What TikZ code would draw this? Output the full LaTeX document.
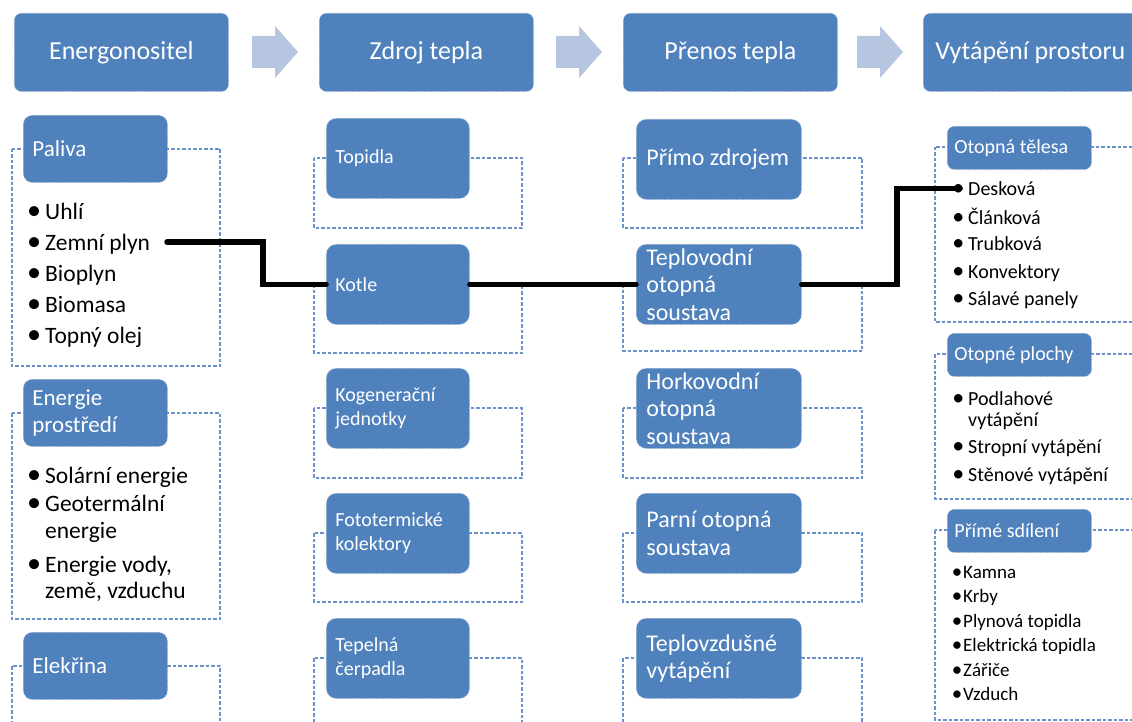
\documentclass[tikz,border=0pt]{standalone}
\usepackage{fontspec}
\setmainfont{Carlito}
\definecolor{boxblue}{HTML}{4F81BD}
\definecolor{boxedge}{HTML}{85A5D0}
\definecolor{dashblue}{HTML}{6A91C9}
\definecolor{arrowfill}{HTML}{B7C6E0}
\tikzset{
  header/.style={fill=boxblue, draw=boxedge, densely dotted, line width=0.8pt,
    rounded corners=7pt, anchor=north west, inner sep=0pt,
    minimum width=214pt, minimum height=78pt, text=white,
    font=\fontsize{26}{30}\selectfont},
  tbox/.style={fill=boxblue, draw=boxedge, densely dotted, line width=0.8pt,
    anchor=north west, inner ysep=0pt, align=flush left, text=white},
  tone/.style={tbox, rounded corners=9pt, inner xsep=9pt, text width=126pt,
    minimum height=67pt, font=\fontsize{23}{27}\selectfont},
  ttwo/.style={tbox, rounded corners=10pt, inner xsep=9pt, text width=125pt,
    minimum height=80pt, font=\fontsize{20}{24}\selectfont},
  tthree/.style={tbox, rounded corners=10pt, inner xsep=10pt, text width=145pt,
    minimum height=80pt, font=\fontsize{24}{27.5}\selectfont},
  tfour/.style={tbox, rounded corners=7pt, inner xsep=7pt, text width=130pt,
    minimum height=43pt, font=\fontsize{20}{24}\selectfont},
  grp/.style={draw=dashblue, dash pattern=on 3.5pt off 2pt, line width=1.1pt},
  itemA/.style={anchor=base west, inner sep=0pt, font=\fontsize{23.5}{27}\selectfont},
  itemB/.style={anchor=base west, inner sep=0pt, font=\fontsize{20}{24}\selectfont},
  itemC/.style={anchor=base west, inner sep=0pt, font=\fontsize{19}{23}\selectfont},
  link/.style={draw=black, line width=5.5pt, line cap=round, line join=miter},
  flowarrow/.pic={\fill[arrowfill] (0,-16) -- (23,-16) -- (23,-26) -- (46,0)
    -- (23,26) -- (23,16) -- (0,16) -- cycle;}
}
\newcommand{\bl}{\llap{\scalebox{1.2}{•}\hspace{4pt}}}
\newcommand{\bt}{\llap{\scalebox{1.1}{•}\hspace{1pt}}}
\begin{document}
\begin{tikzpicture}[x=1pt,y=-1pt]
\useasboundingbox (0,0) rectangle (1132,722);
\clip (0,0) rectangle (1132,722);

% headers
\node[header] (h1) at (14,13) {Energonositel};
\node[header] (h2) at (319,13) {Zdroj tepla};
\node[header] (h3) at (623,13) {Přenos tepla};
\node[header] (h4) at (923,13) {Vytápění prostoru};
\pic at (252,52) {flowarrow};
\pic at (556,52) {flowarrow};
\pic at (857,52) {flowarrow};

% column 1 groups
\draw[grp] (12,149) rectangle (220,366);
\draw[grp] (12,413) rectangle (220,619);
\draw[grp] (12,666) rectangle (220,760);
\node[tone] (paliva) at (23,115) {Paliva};
\node[tone] (envi) at (23,379) {Energie\\prostředí};
\node[tone] (elek) at (23,632) {Elekřina};

\node[itemA] (uhli) at (45,219) {\bl Uhlí};
\node[itemA] (zemni) at (45,250) {\bl Zemní plyn};
\node[itemA] (biop) at (45,281) {\bl Bioplyn};
\node[itemA] (biom) at (45,312) {\bl Biomasa};
\node[itemA] (olej) at (45,343) {\bl Topný olej};
\node[itemA] (sol) at (45,483) {\bl Solární energie};
\node[itemA] (geo) at (45,511) {\bl Geotermální};
\node[itemA] (geob) at (45,538) {energie};
\node[itemA] (vod) at (45,572) {\bl Energie vody,};
\node[itemA] (vodb) at (45,598) {země, vzduchu};

% column 2 groups
\draw[grp] (314,158) rectangle (522,228);
\draw[grp] (314,284) rectangle (522,353);
\draw[grp] (314,408) rectangle (522,478);
\draw[grp] (314,533) rectangle (522,602);
\draw[grp] (314,658) rectangle (522,760);
\node[ttwo] (topidla) at (326,118) {Topidla};
\node[ttwo] (kotle) at (326,244) {Kotle};
\node[ttwo] (kogen) at (326,368) {Kogenerační\\jednotky};
\node[ttwo] (foto) at (326,493) {Fototermické\\kolektory};
\node[ttwo] (cerp) at (326,618) {Tepelná\\čerpadla};

% column 3 groups
\draw[grp] (623,158) rectangle (862,228);
\draw[grp] (623,284) rectangle (862,351);
\draw[grp] (623,408) rectangle (862,478);
\draw[grp] (623,533) rectangle (862,602);
\draw[grp] (623,658) rectangle (862,760);
\node[tthree] (primo) at (636,119) {\mbox{Přímo zdrojem}};
\node[tthree] (teplo) at (636,244) {Teplovodní\\otopná\\soustava};
\node[tthree] (horko) at (636,368) {Horkovodní\\otopná\\soustava};
\node[tthree] (parni) at (636,493) {\mbox{Parní otopná}\\soustava};
\node[tthree] (vzduch) at (636,618) {Teplovzdušné\\vytápění};

% column 4 groups
\draw[grp] (935,147) rectangle (1150,322);
\draw[grp] (935,354) rectangle (1150,499);
\draw[grp] (935,530) rectangle (1150,720);
\node[tfour] (telesa) at (947,126) {\mbox{Otopná tělesa}};
\node[tfour] (plochy) at (947,333) {\mbox{Otopné plochy}};
\node[tfour] (sdil) at (947,509) {\mbox{Přímé sdílení}};

\node[itemB] (desk) at (968,196) {\bl Desková};
\node[itemB] (clan) at (968,224) {\bl Článková};
\node[itemB] (trub) at (968,251) {\bl Trubková};
\node[itemB] (konv) at (968,278) {\bl Konvektory};
\node[itemB] (sal) at (968,305) {\bl Sálavé panely};
\node[itemB] (podl) at (968,405) {\bl Podlahové};
\node[itemB] (podlb) at (968,426) {vytápění};
\node[itemB] (strop) at (968,453) {\bl Stropní vytápění};
\node[itemB] (sten) at (968,481) {\bl Stěnové vytápění};
\node[itemC] (kamna) at (963,578) {\bt Kamna};
\node[itemC] (krby) at (963,602) {\bt Krby};
\node[itemC] (plyn) at (963,627) {\bt Plynová topidla};
\node[itemC] (elt) at (963,651) {\bt Elektrická topidla};
\node[itemC] (zar) at (963,676) {\bt Zářiče};
\node[itemC] (vzd) at (963,700) {\bt Vzduch};

% connector path
\coordinate (zp) at (167,242);
\coordinate (dk) at (960,188.5);
\draw[link] (zp) -- ++(96,0) |- (kotle.west);
\draw[link] (kotle.east) -- (teplo.west);
\draw[link] (teplo.east) -- ++(95,0) |- (dk);
\end{tikzpicture}
\end{document}
